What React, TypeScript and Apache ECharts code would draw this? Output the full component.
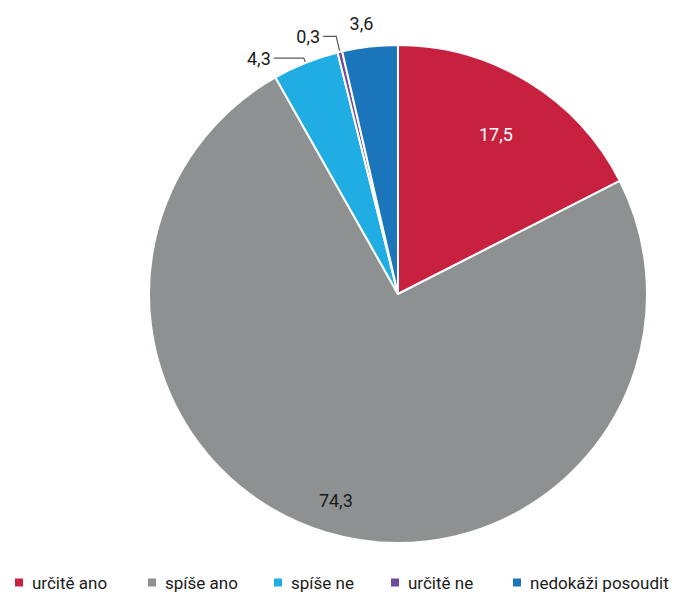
import React, { useEffect, useRef } from "react";
import * as echarts from "echarts";

const categories = ["určitě ano", "spíše ano", "spíše ne", "určitě ne", "nedokáži posoudit"];
const values = [17.5, 74.3, 4.3, 0.3, 3.6];
const colors = ["#C8203F", "#8E9192", "#1FADE4", "#6C4BA0", "#1B75BB"];
const legendLeft = [5, 138, 264, 381, 503];

const FONT = "Roboto, 'Noto Sans', sans-serif";
const fmt = (v: number) => v.toFixed(1).replace(".", ",");

export default function App() {
  const ref = useRef<HTMLDivElement>(null);
  useEffect(() => {
    if (!ref.current) return;
    const chart = echarts.init(ref.current, null, { renderer: "svg" });
    const center = [390, 286];
    const R = 249;
    const outsideCfg: Record<number, any> = {
      2: { length: 5, length2: 30 },
      3: { length: 16, length2: 13 },
      4: { length: 23, length2: 0 },
    };
    const base = {
      type: "pie",
      center,
      startAngle: 90,
      clockwise: true,
      silent: true,
      avoidLabelOverlap: false,
      emphasis: { disabled: true },
    };
    const labelSeries = (idx: number, factor: number, color: string) => ({
      ...base,
      radius: [0, R * factor],
      itemStyle: { color: "transparent", borderWidth: 0 },
      label: { show: true, position: "inside", fontFamily: FONT, fontSize: 18, color },
      labelLine: { show: false },
      data: categories.map((c, i) => ({
        name: c + "_lbl" + idx,
        value: values[i],
        label: i === idx ? { show: true, formatter: fmt(values[i]) } : { show: false },
      })),
    });
    chart.setOption({
      animation: false,
      color: colors,
      legend: categories.map((c, i) => ({
        left: legendLeft[i],
        top: 566,
        padding: 0,
        itemWidth: 10,
        itemHeight: 10,
        icon: "rect",
        selectedMode: false,
        data: [c],
        textStyle: { fontFamily: FONT, fontSize: 17, color: "#1a1a1a", padding: [0, 0, 0, 3] },
      })),
      series: [
        {
          ...base,
          radius: [0, R],
          itemStyle: { borderColor: "#ffffff", borderWidth: 2 },
          labelLine: { show: true, lineStyle: { color: "#595959", width: 1.2 } },
          label: { show: true, position: "outside", fontFamily: FONT, fontSize: 18, color: "#1a1a1a" },
          data: categories.map((c, i) => ({
            name: c,
            value: values[i],
            label: i < 2
              ? { show: false }
              : { show: true, formatter: fmt(values[i]), distanceToLabelLine: i === 4 ? -6 : 3 },
            labelLine: i < 2 ? { show: false } : { show: i !== 4, ...outsideCfg[i] },
          })),
        },
        labelSeries(0, 1.48, "#ffffff"),
        labelSeries(1, 1.71, "#1a1a1a"),
      ],
    });
    return () => chart.dispose();
  }, []);
  return <div ref={ref} style={{ width: 661, height: 588 }} />;
}
